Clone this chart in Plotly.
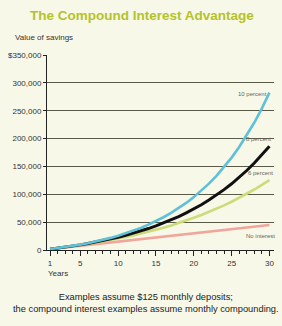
import plotly.graph_objects as go

years = list(range(1, 31))
no_interest = [1500, 3000, 4500, 6000, 7500, 9000, 10500, 12000, 13500, 15000,
               16500, 18000, 19500, 21000, 22500, 24000, 25500, 27000, 28500, 30000,
               31500, 33000, 34500, 36000, 37500, 39000, 40500, 42000, 43500, 45000]
six_pct = [1542, 3179, 4917, 6762, 8721, 10801, 13009, 15354, 17843, 20485,
           23290, 26269, 29431, 32788, 36352, 40136, 44154, 48419, 52948, 57755,
           62860, 68279, 74032, 80140, 86625, 93510, 100819, 108579, 116818, 125565]
eight_pct = [1556, 3242, 5067, 7044, 9184, 11503, 14014, 16734, 19679, 22868,
             26323, 30064, 34115, 38503, 43255, 48402, 53975, 60011, 66549, 73629,
             81296, 89600, 98593, 108332, 118880, 130303, 142675, 156073, 170583, 186298]
ten_pct = [1571, 3306, 5223, 7340, 9680, 12264, 15119, 18273, 21757, 25606,
           29858, 34555, 39744, 45476, 51809, 58805, 66533, 75071, 84502, 94921,
           106432, 119147, 133194, 148712, 165855, 184792, 205713, 228825, 254357, 282562]

series_names = ["No interest", "6 percent", "8 percent", "10 percent"]
series_vals = [no_interest, six_pct, eight_pct, ten_pct]
series_colors = ["#f2a59a", "#cddc78", "#111111", "#5fc0d8"]
label_pos = [(28.8, 25000), (28.8, 139000), (28.6, 200000), (27.8, 280000)]

y_ticks = [0, 50000, 100000, 150000, 200000, 250000, 300000, 350000]
y_labels = ["0", "50,000", "100,000", "150,000", "200,000", "250,000", "300,000", "$350,000"]
x_ticks = [1, 5, 10, 15, 20, 25, 30]

title = "The Compound Interest Advantage"
caption = "Examples assume $125 monthly deposits;<br>the compound interest examples assume monthly compounding."

font = "Liberation Sans Narrow, Arial Narrow, Liberation Sans, sans-serif"

fig = go.Figure()
for name, vals, col in zip(series_names, series_vals, series_colors):
    fig.add_trace(go.Scatter(x=years, y=vals, mode="lines", name=name,
                             line=dict(color=col, width=3 if col == "#111111" else 2.6)))

for name, (lx, ly) in zip(series_names, label_pos):
    fig.add_annotation(x=lx, y=ly, xref="x", yref="y", text=name, showarrow=False,
                       font=dict(family=font, size=6, color="#666660"))

fig.update_layout(
    width=282, height=326,
    margin=dict(l=40, r=8, t=55, b=76),
    paper_bgcolor="#f8f8e8", plot_bgcolor="#f8f8e8",
    showlegend=False,
    xaxis=dict(range=[0.6, 30.6], tickvals=x_ticks, ticks="outside", ticklen=5,
               tickcolor="#222", showgrid=False, zeroline=False, showline=True,
               linecolor="#222", linewidth=1,
               minor=dict(dtick=1, tick0=0, ticks="outside", ticklen=3, tickcolor="#222"),
               tickfont=dict(family=font, size=8, color="#333")),
    yaxis=dict(range=[0, 350000], tickvals=y_ticks, ticktext=y_labels, ticks="outside",
               ticklen=3, tickcolor="#222", showgrid=True, gridcolor="#5a5a48",
               gridwidth=1, zeroline=False, showline=True, linecolor="#222", linewidth=1,
               tickfont=dict(family=font, size=8, color="#333")),
)

fig.add_annotation(xref="paper", yref="paper", x=0.42, y=1, yshift=40, text="<b>" + title + "</b>",
                   showarrow=False, yanchor="middle",
                   font=dict(family=font, size=13.5, color="#b4c22c"))
fig.add_annotation(xref="paper", yref="paper", x=-0.15, y=1, yshift=18, xanchor="left",
                   text="Value of savings", showarrow=False, yanchor="middle",
                   font=dict(family=font, size=8, color="#333"))
fig.add_annotation(xref="paper", yref="paper", x=-0.005, y=0, yshift=-23, xanchor="left",
                   text="Years", showarrow=False, yanchor="middle",
                   font=dict(family=font, size=8, color="#333"))
fig.add_annotation(xref="paper", yref="paper", x=0.435, y=0, yshift=-53,
                   text=caption, showarrow=False, yanchor="middle", align="center",
                   font=dict(family=font, size=9.3, color="#222"))

fig.write_html("out.html")
